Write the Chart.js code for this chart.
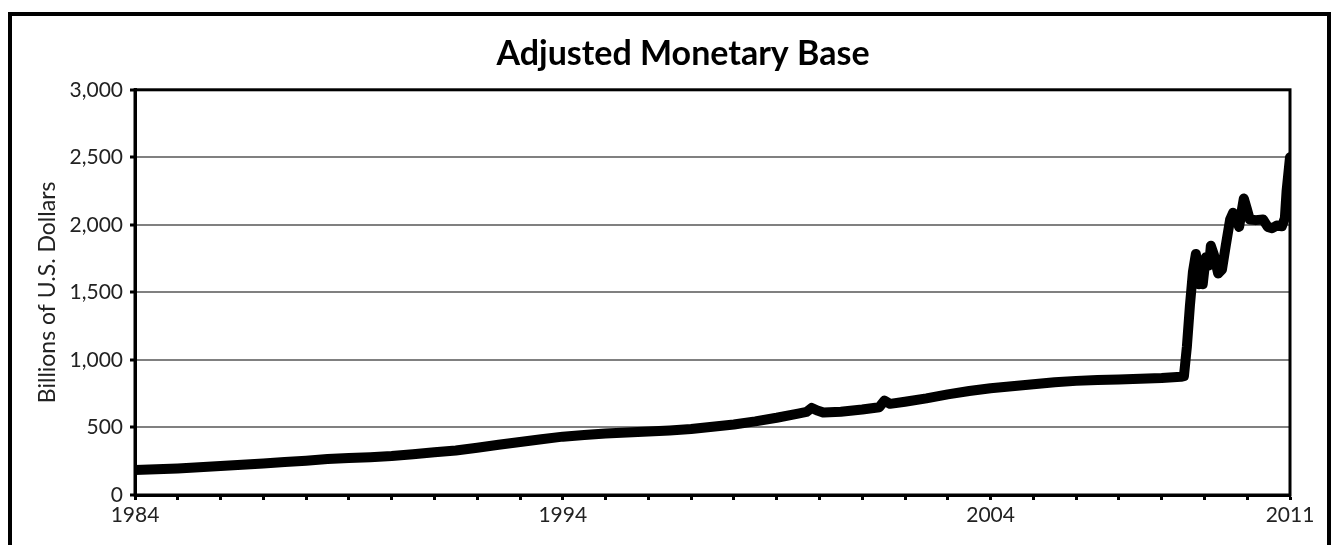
<!DOCTYPE html>
<html>
<head>
<meta charset="utf-8">
<script src="https://cdn.jsdelivr.net/npm/chart.js@4.4.0/dist/chart.umd.min.js"></script>
<style>
  html, body { margin: 0; padding: 0; background: #fff; overflow: hidden; }
  body { width: 1332px; height: 545px; position: relative; }
  #frame { position: absolute; left: 8px; top: 12px; width: 1315px; height: 600px; border: 4px solid #000; box-sizing: content-box; }
  #c { position: absolute; left: 0; top: 0; }
</style>
</head>
<body>
<div id="frame"></div>
<canvas id="c" width="1332" height="545"></canvas>
<script>
// ---- data (decimal year, billions of U.S. dollars) ----
const years = [
  1984.0, 1984.5, 1985.0, 1985.5, 1986.0, 1986.5, 1987.0, 1987.5, 1988.0, 1988.5,
  1989.0, 1989.5, 1990.0, 1990.5, 1991.0, 1991.5, 1992.0, 1992.5, 1993.0, 1993.5,
  1994.0, 1994.5, 1995.0, 1995.5, 1996.0, 1996.5, 1997.0, 1997.5, 1998.0, 1998.5,
  1999.0, 1999.5, 1999.7, 1999.82, 1999.95, 2000.1, 2000.5, 2001.0, 2001.4, 2001.52,
  2001.65, 2002.0, 2002.5, 2003.0, 2003.5, 2004.0, 2004.5, 2005.0, 2005.5, 2006.0,
  2006.5, 2007.0, 2007.5, 2008.0, 2008.45, 2008.52, 2008.59, 2008.66, 2008.73, 2008.80,
  2008.87, 2008.92, 2008.96, 2009.03, 2009.11, 2009.15, 2009.22, 2009.32, 2009.41, 2009.50,
  2009.60, 2009.67, 2009.74, 2009.81, 2009.88, 2009.92, 2009.99, 2010.06, 2010.20, 2010.37,
  2010.48, 2010.58, 2010.69, 2010.81, 2010.88, 2010.92, 2011.0
];
const values = [
  185, 190, 197, 205, 214, 224, 234, 245, 254, 266,
  274, 280, 289, 302, 316, 330, 350, 372, 393, 413,
  432, 445, 455, 463, 470, 478, 488, 505, 522, 545,
  572, 603, 615, 645, 625, 610, 617, 633, 650, 698,
  675, 690, 715, 745, 770, 790, 805, 820, 835, 845,
  852, 856, 860, 866, 875, 880, 1100, 1400, 1650, 1785,
  1560, 1700, 1560, 1760, 1700, 1845, 1780, 1640, 1670, 1850,
  2040, 2090, 2050, 1985, 2120, 2195, 2120, 2040, 2035, 2040,
  1985, 1975, 1995, 1990, 2050, 2250, 2500
];
const tickYears = [];
for (let y = 1984; y <= 2011; y++) tickYears.push(y);
const labelYears = [1984, 1994, 2004, 2011];
const yTicks = [0, 500, 1000, 1500, 2000, 2500, 3000];

const plotFrame = {
  id: 'plotFrame',
  afterLayout(chart) {
    const t = chart.titleBlock;
    if (t) { t.left += 28; t.right += 28; }
  },
  afterDatasetsDraw(chart) {
    const { ctx, chartArea: a } = chart;
    ctx.save();
    ctx.strokeStyle = '#000';
    ctx.lineWidth = 3;
    ctx.strokeRect(a.left, a.top, a.right - a.left, a.bottom - a.top);
    ctx.restore();
  }
};

new Chart(document.getElementById('c'), {
  type: 'line',
  data: {
    datasets: [{
      data: years.map((x, i) => ({ x: x, y: values[i] })),
      borderColor: '#000',
      borderWidth: 10,
      pointRadius: 0,
      tension: 0,
      fill: false,
      borderJoinStyle: 'round',
      borderCapStyle: 'round'
    }]
  },
  options: {
    responsive: false,
    animation: false,
    devicePixelRatio: 1,
    layout: { padding: { left: 20, right: 42, top: 0, bottom: 0 } },
    plugins: {
      legend: { display: false },
      tooltip: { enabled: false },
      title: {
        display: true,
        text: 'Adjusted Monetary Base',
        color: '#000',
        font: { family: 'Lato', size: 34, weight: 'bold' },
        padding: { top: 34, bottom: 15 }
      }
    },
    scales: {
      x: {
        type: 'linear',
        min: 1984,
        max: 2011,
        afterBuildTicks: s => { s.ticks = tickYears.map(v => ({ value: v })); },
        afterFit: s => { s.height = 50; },
        ticks: {
          autoSkip: false,
          maxRotation: 0,
          color: '#222',
          padding: 3,
          font: { family: 'Lato', size: 21 },
          callback: v => labelYears.includes(v) ? String(v) : ''
        },
        grid: { drawOnChartArea: false, drawTicks: true, tickLength: 5, tickColor: '#000', tickWidth: 3 },
        border: { display: true, color: '#000', width: 3 }
      },
      y: {
        min: 0,
        max: 3000,
        afterBuildTicks: s => { s.ticks = yTicks.map(v => ({ value: v })); },
        afterFit: s => { s.width = 115; },
        ticks: {
          color: '#222',
          padding: 7,
          font: { family: 'Lato', size: 21 },
          callback: v => v.toLocaleString('en-US')
        },
        grid: { color: '#808080', lineWidth: 2, tickColor: '#000', tickLength: 5, tickWidth: 3 },
        border: { display: true, color: '#000', width: 3 },
        title: {
          display: true,
          text: 'Billions of U.S. Dollars',
          color: '#222',
          font: { family: 'Lato', size: 23 },
          padding: { top: 14, bottom: 0 }
        }
      }
    }
  },
  plugins: [plotFrame]
});
</script>
</body>
</html>
